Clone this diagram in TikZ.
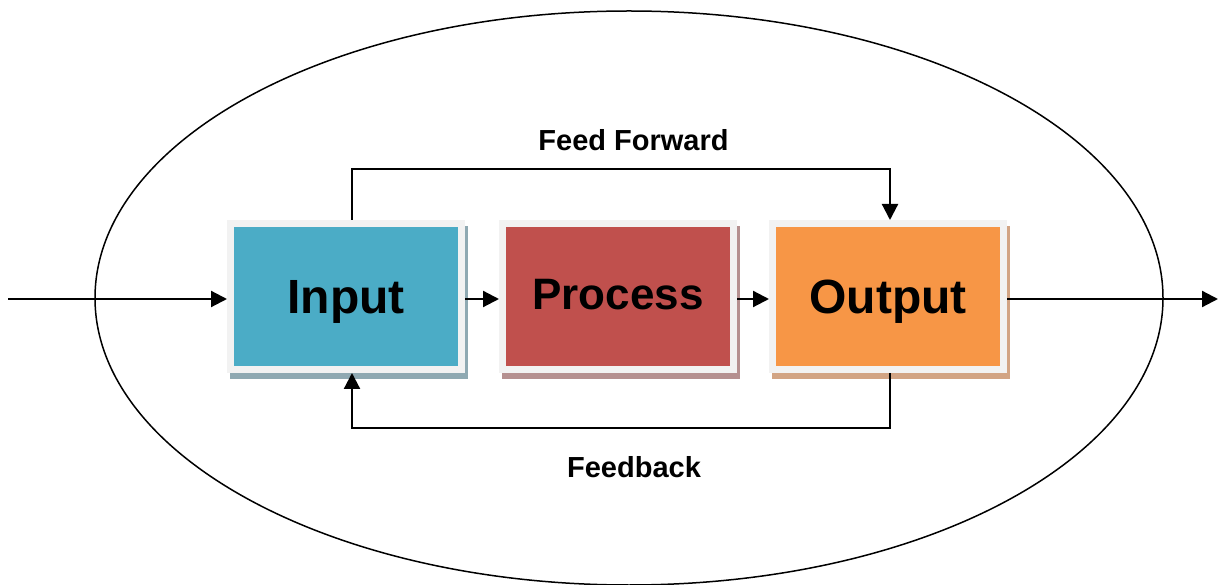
\documentclass[tikz,border=0pt]{standalone}
\usepackage{fontspec}
\setmainfont{Liberation Sans}
\usetikzlibrary{arrows.meta,backgrounds}
\definecolor{incol}{HTML}{4BACC6}
\definecolor{prcol}{HTML}{C0504D}
\definecolor{outcol}{HTML}{F79646}
\definecolor{framecol}{HTML}{F2F2F2}
\definecolor{insh}{HTML}{8FA9B2}
\definecolor{prsh}{HTML}{B59090}
\definecolor{outsh}{HTML}{D2A484}
\tikzset{
  box/.style={draw=framecol, line width=7pt, minimum width=231pt, minimum height=146pt,
    inner sep=0pt, text height=34pt, text depth=0pt, font=\bfseries\fontsize{48}{50}\selectfont},
  lbl/.style={font=\bfseries\fontsize{29}{31}\selectfont, inner sep=0pt, text height=20.5pt, text depth=0pt},
  arr/.style={line width=2.2pt, -{Triangle[length=16pt,width=16pt]}},
}
\begin{document}
\begin{tikzpicture}[x=1pt,y=-1pt]
\useasboundingbox (0,0) rectangle (1219,585);
\draw[line width=1.5pt] (629,298) ellipse [x radius=534, y radius=287];
\node[box, fill=incol] (in) at (346,296.5) {Input};
\node[box, fill=prcol, font=\bfseries\fontsize{44}{46}\selectfont, text height=26.5pt] (pr) at (618,296.5) {Process};
\node[box, fill=outcol] (out) at (888,296.5) {Output};
\begin{pgfonlayer}{background}
\fill[white] (0,0) rectangle (1219,585);
\fill[insh] ([shift={(3,6)}]in.north west) rectangle ([shift={(3,6)}]in.south east);
\fill[prsh] ([shift={(3,6)}]pr.north west) rectangle ([shift={(3,6)}]pr.south east);
\fill[outsh] ([shift={(3,6)}]out.north west) rectangle ([shift={(3,6)}]out.south east);
\end{pgfonlayer}
\coordinate (start) at (8,299);
\coordinate (end) at (1218,299);
\coordinate (ff) at (620,169);
\coordinate (fb) at (620,428);
\draw[arr] (start) -- (start -| in.west);
\draw[arr] (in.east |- start) -- (pr.west |- start);
\draw[arr] (pr.east |- start) -- (out.west |- start);
\draw[arr] (out.east |- start) -- (end);
\draw[arr] ([xshift=6pt]in.north) |- (ff) -| ([xshift=2pt]out.north);
\draw[arr] ([xshift=2pt]out.south) |- (fb) -| ([xshift=6pt]in.south);
\node[lbl] (fflbl) at (633.5,140) {Feed Forward};
\node[lbl] (fblbl) at (634,467) {Feedback};
\end{tikzpicture}
\end{document}
